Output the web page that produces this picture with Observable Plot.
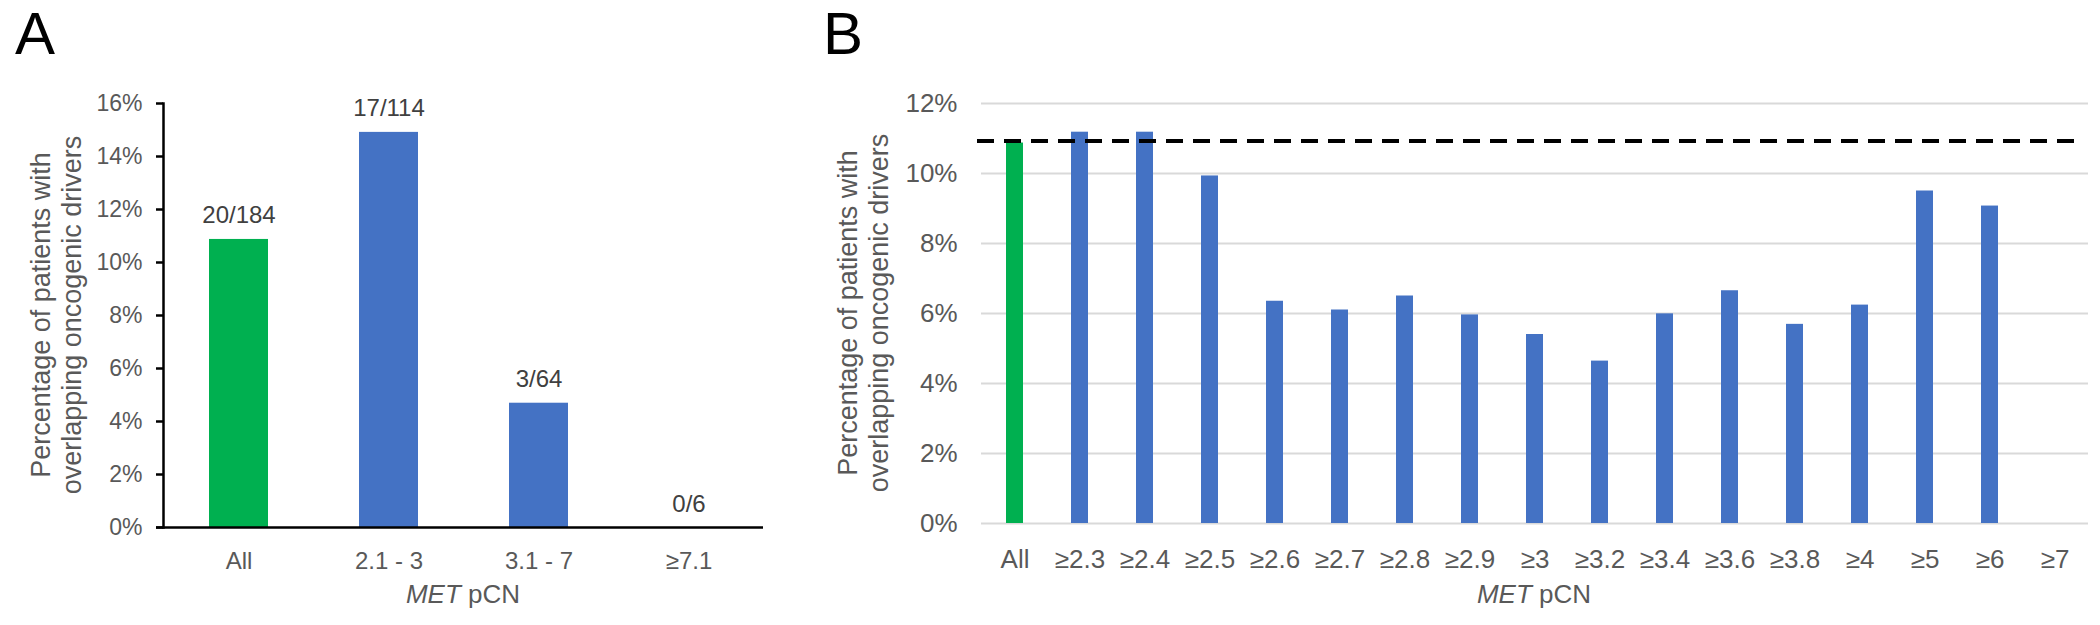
<!DOCTYPE html>
<html>
<head>
<meta charset="utf-8">
<script src="https://cdn.jsdelivr.net/npm/d3@7"></script>
<script src="https://cdn.jsdelivr.net/npm/@observablehq/plot@0.6"></script>
<style>
  html, body { margin: 0; padding: 0; background: white; }
  #wrap { position: relative; width: 2100px; height: 625px; overflow: hidden; font-family: "Liberation Sans", Arial, sans-serif; }
  .panel { position: absolute; top: 0; }
  .letter { position: absolute; font-size: 60px; line-height: 60px; color: #000; }
  .ytitle { position: absolute; width: 440px; height: 62px; font-size: 27px; line-height: 31px; color: #595959; text-align: center; white-space: nowrap; transform: rotate(-90deg); }
  .xtitle { position: absolute; width: 300px; font-size: 26px; line-height: 30px; color: #595959; text-align: center; white-space: nowrap; }
</style>
</head>
<body>
<div id="wrap"></div>
<script>
// ---- Panel A data ----
const catsA = ["All", "2.1 - 3", "3.1 - 7", "≥7.1"];
const valsA = [10.87, 14.91, 4.69, 0];
const labelsA = ["20/184", "17/114", "3/64", "0/6"];
const ticksA = [0, 2, 4, 6, 8, 10, 12, 14, 16];

// ---- Panel B data ----
const catsB = ["All", "≥2.3", "≥2.4", "≥2.5", "≥2.6", "≥2.7", "≥2.8", "≥2.9", "≥3", "≥3.2", "≥3.4", "≥3.6", "≥3.8", "≥4", "≥5", "≥6", "≥7"];
const valsB = [10.87, 11.18, 11.18, 9.93, 6.35, 6.10, 6.50, 5.96, 5.40, 4.64, 5.99, 6.65, 5.69, 6.24, 9.50, 9.07, 0];
const refLine = 10.93;
const ticksB = [0, 2, 4, 6, 8, 10, 12];

const green = "#00B050", blue = "#4472C4";
const font = "Liberation Sans, Arial, sans-serif";
const pct = d => d + "%";

const dataA = catsA.map((c, i) => ({cat: c, val: valsA[i], label: labelsA[i], all: i === 0}));
const dataB = catsB.map((c, i) => ({cat: c, val: valsB[i], all: i === 0}));

const wrap = document.getElementById("wrap");

const plotA = Plot.plot({
  width: 800, height: 625,
  marginLeft: 163, marginRight: 37, marginTop: 103, marginBottom: 98,
  style: {fontFamily: font, background: "white", overflow: "visible"},
  x: {domain: catsA, paddingInner: 0.607, paddingOuter: 0.3035, label: null},
  y: {domain: [0, 16], label: null},
  marks: [
    Plot.barY(dataA, {x: "cat", y: "val", fill: d => d.all ? green : blue}),
    Plot.text(dataA, {x: "cat", y: "val", text: "label", lineAnchor: "bottom", dy: -16, fontSize: 24, fill: "#404040"}),
    Plot.ruleY([0], {stroke: "black", strokeWidth: 2.5, insetLeft: -7}),
    Plot.frame({anchor: "left", stroke: "black", strokeWidth: 2.5}),
    Plot.axisY({ticks: ticksA, tickSize: 7, tickFormat: () => "", stroke: "black", strokeWidth: 2.5, label: null}),
    Plot.axisY({ticks: ticksA, tickSize: 0, tickPadding: 21, tickFormat: pct, fontSize: 23, fill: "#595959", label: null}),
    Plot.axisX({tickSize: 0, tickPadding: 24, fontSize: 24, fill: "#595959", label: null})
  ]
});

const plotB = Plot.plot({
  width: 1300, height: 625,
  marginLeft: 181, marginRight: 12, marginTop: 103, marginBottom: 102,
  style: {fontFamily: font, background: "white", overflow: "visible"},
  x: {domain: catsB, paddingInner: 0.743, paddingOuter: 0.3715, label: null},
  y: {domain: [0, 12], label: null},
  marks: [
    Plot.gridY(ticksB, {stroke: "#d9d9d9", strokeOpacity: 1, strokeWidth: 2}),
    Plot.barY(dataB, {x: "cat", y: "val", fill: d => d.all ? green : blue}),
    Plot.ruleY([refLine], {stroke: "black", strokeWidth: 4, strokeDasharray: "17,10", insetLeft: -4, insetRight: 7}),
    Plot.axisY({ticks: ticksB, tickSize: 0, tickPadding: 24, tickFormat: pct, fontSize: 26, fill: "#595959", label: null}),
    Plot.axisX({tickSize: 0, tickPadding: 26, fontSize: 26, fill: "#595959", label: null})
  ]
});

const pa = document.createElement("div"); pa.className = "panel"; pa.style.left = "0px"; pa.appendChild(plotA); wrap.appendChild(pa);
const pb = document.createElement("div"); pb.className = "panel"; pb.style.left = "800px"; pb.appendChild(plotB); wrap.appendChild(pb);

function addDiv(cls, html, style) {
  const d = document.createElement("div");
  d.className = cls; d.innerHTML = html;
  Object.assign(d.style, style);
  wrap.appendChild(d);
}
addDiv("letter", "A", {left: "15px", top: "4px"});
addDiv("letter", "B", {left: "823px", top: "4px"});
const yt = "Percentage of patients with<br>overlapping oncogenic drivers";
addDiv("ytitle", yt, {left: (57 - 220) + "px", top: (315 - 31) + "px"});
addDiv("ytitle", yt, {left: (864 - 220) + "px", top: (313 - 31) + "px"});
addDiv("xtitle", "<i>MET</i> pCN", {left: (463 - 150) + "px", top: "579px"});
addDiv("xtitle", "<i>MET</i> pCN", {left: (1534 - 150) + "px", top: "579px"});
</script>
</body>
</html>
